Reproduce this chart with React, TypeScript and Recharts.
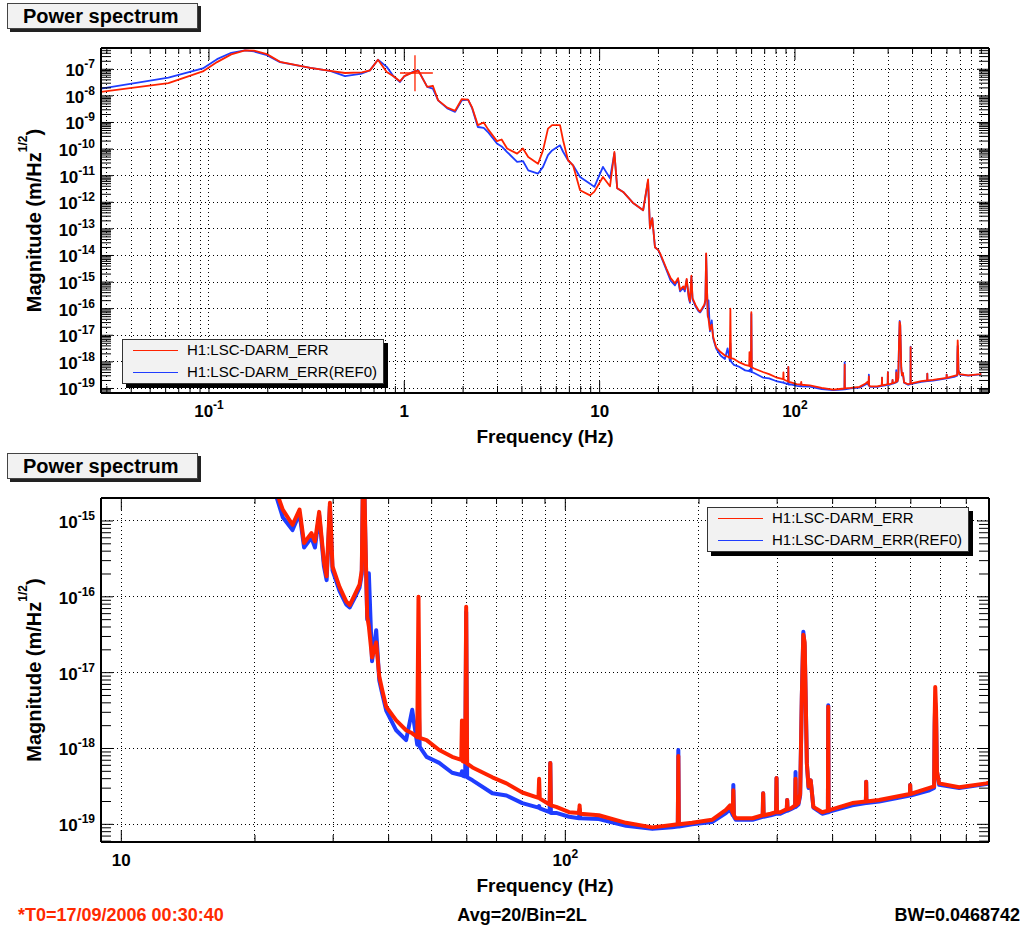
import React from 'react';
import { LineChart, Line, XAxis, YAxis, CartesianGrid, ReferenceLine, Legend } from 'recharts';

const FONT = '"Liberation Sans", Arial, Helvetica, sans-serif';
const ERR_COLOR = '#ff2200';
const REF_COLOR = '#1f3dff';

// Frequency bins (Hz)
const freqHz = [
  0.028, 0.062, 0.093, 0.11, 0.13, 0.153, 0.17, 0.198, 0.231, 0.33,
  0.417, 0.497, 0.607, 0.667, 0.733, 0.813, 0.88, 0.95, 1.0, 1.12,
  1.18, 1.31, 1.4, 1.49, 1.66, 1.82, 1.97, 2.12, 2.22, 2.38,
  2.55, 2.68, 2.98, 3.15, 3.36, 3.78, 4.05, 4.31, 4.84, 5.13,
  5.44, 5.71, 6.27, 6.5, 6.89, 7.31, 7.94, 8.93, 9.4, 10.4,
  11.3, 11.9, 12.3, 13.2, 14.9, 16.7, 17.7, 18.1, 18.6, 19.2,
  19.97, 20.4, 22, 23.1, 24.3, 25.2, 25.8, 26.8, 27.3, 27.9,
  28.6, 29, 29.5, 29.9, 31, 32.1, 32.7, 33.5, 34.4, 34.8,
  35.1, 35.5, 35.8, 36.1, 36.7, 37.5, 38.1, 38.7, 39.5, 41.6,
  43.8, 45.2, 46.4, 46.7, 47, 48.7, 52, 55.6, 58.3, 58.5,
  58.8, 59.5, 59.8, 60.1, 61.8, 68.5, 73.7, 80, 87, 87.3,
  87.6, 92.2, 92.5, 92.8, 95.4, 102, 107.4, 107.7, 108, 119,
  137, 157, 174, 179.2, 179.7, 180.2, 193, 214, 230, 235,
  238.3, 239, 239.7, 242, 264, 278.3, 279, 279.7, 290, 298.3,
  299, 299.7, 305, 315.3, 316, 316.7, 322, 329.3, 330, 330.7,
  335, 338, 341, 343.6, 346, 348, 350, 353, 357, 362,
  379, 390.3, 391, 391.7, 395, 443, 475.3, 476, 476.7, 509,
  597, 598, 599, 661, 677, 679, 681, 684, 687, 695,
  771, 887, 900,
];

// log10 of amplitude spectral density, m/Hz^(1/2): current measurement
const errLog10 = [
  -7.85, -7.52, -7.08, -6.73, -6.44, -6.29, -6.3, -6.43, -6.72, -6.95,
  -7.06, -7.14, -7.12, -7.04, -6.64, -7.1, -7.26, -7.45, -7.26, -7.1,
  -7.05, -7.66, -7.62, -8.17, -8.44, -8.56, -8.12, -8.14, -8.42, -9.1,
  -9.0, -9.25, -9.7, -9.64, -9.98, -10.17, -9.98, -10.3, -10.55, -10.05,
  -9.23, -9.1, -9.1, -9.67, -10.42, -10.61, -11.55, -11.74, -11.6, -11.05,
  -11.4, -10.11, -11.47, -11.61, -12.04, -12.3, -11.14, -12.98, -12.6, -13.69,
  -13.8, -13.92, -14.5, -14.85, -15.05, -14.85, -15.29, -15.16, -15.27, -14.88,
  -15.54, -15.73, -14.76, -15.6, -15.87, -16.06, -16.11, -15.98, -15.84, -15.65,
  -13.92, -15.38, -16.26, -16.39, -16.8, -16.6, -17.05, -17.23, -17.45, -17.63,
  -17.76, -17.8, -17.85, -16.0, -17.86, -17.89, -18.02, -18.11, -18.15, -17.63,
  -18.17, -18.18, -16.13, -18.2, -18.25, -18.38, -18.46, -18.58, -18.65, -18.4,
  -18.66, -18.74, -18.19, -18.75, -18.77, -18.84, -18.85, -18.75, -18.86, -18.88,
  -18.98, -19.04, -19.01, -19.0, -18.1, -19.0, -18.98, -18.94, -18.81, -18.75,
  -18.85, -18.55, -18.88, -18.92, -18.92, -18.88, -18.59, -18.88, -18.86, -18.84,
  -18.39, -18.84, -18.84, -18.8, -18.68, -18.8, -18.79, -18.75, -18.4, -18.75,
  -18.72, -18.6, -17.3, -16.5, -16.6, -17.4, -18.2, -18.5, -18.42, -18.77,
  -18.84, -18.82, -17.45, -18.82, -18.81, -18.72, -18.7, -18.44, -18.7, -18.68,
  -18.6, -18.48, -18.6, -18.52, -18.5, -17.6, -17.19, -17.5, -18.3, -18.46,
  -18.51, -18.46, -18.45,
];

// log10 of amplitude spectral density, m/Hz^(1/2): reference (REF0)
const refLog10 = [
  -7.73, -7.31, -6.97, -6.62, -6.38, -6.29, -6.33, -6.47, -6.73, -6.95,
  -7.06, -7.26, -7.16, -7.04, -6.64, -6.91, -7.26, -7.48, -7.26, -7.08,
  -7.04, -7.66, -7.73, -8.17, -8.47, -8.6, -8.17, -8.14, -8.45, -9.17,
  -9.2, -9.36, -9.79, -9.9, -10.11, -10.48, -10.45, -10.8, -10.92, -10.67,
  -10.23, -10.05, -9.86, -10.1, -10.42, -10.61, -11.05, -11.3, -11.42, -10.67,
  -11.1, -10.15, -11.47, -11.61, -12.04, -12.3, -11.2, -12.98, -12.6, -13.69,
  -13.8, -13.95, -14.55, -14.95, -15.12, -14.9, -15.35, -15.22, -15.35, -14.92,
  -15.6, -15.78, -14.8, -15.65, -15.92, -16.1, -16.14, -16.02, -15.88, -15.7,
  -13.95, -15.4, -16.3, -15.69, -16.85, -16.44, -17.1, -17.28, -17.5, -17.76,
  -17.89, -17.49, -17.95, -17.3, -17.98, -18.11, -18.19, -18.32, -18.35, -18.3,
  -18.36, -18.37, -16.2, -18.38, -18.42, -18.59, -18.62, -18.72, -18.78, -18.76,
  -18.79, -18.84, -18.19, -18.85, -18.85, -18.9, -18.92, -18.8, -18.92, -18.93,
  -19.02, -19.06, -19.04, -19.03, -18.02, -19.03, -19.0, -18.97, -18.85, -18.8,
  -18.88, -18.48, -18.9, -18.94, -18.94, -18.9, -18.59, -18.9, -18.88, -18.86,
  -18.39, -18.86, -18.86, -18.82, -18.68, -18.82, -18.8, -18.77, -18.31, -18.77,
  -18.74, -18.62, -17.3, -16.46, -16.65, -17.4, -18.2, -18.52, -18.42, -18.78,
  -18.86, -18.84, -17.43, -18.84, -18.83, -18.75, -18.72, -18.44, -18.72, -18.7,
  -18.62, -18.48, -18.62, -18.55, -18.52, -17.7, -17.4, -17.6, -18.3, -18.48,
  -18.52, -18.47, -18.46,
];

const seriesLabels = ['H1:LSC-DARM_ERR', 'H1:LSC-DARM_ERR(REF0)'];
const seriesColors = [ERR_COLOR, REF_COLOR];

// Error-bar cross on the current trace near 1.1 Hz
const crossFreq = [0.95, 1.134, 1.4]; // left, centre, right
const crossLog10 = [-7.83, -7.14, -6.47]; // bottom, centre, top

// Axis labels
const topXLabels = [
  { v: 0.1, base: '10', exp: '-1' },
  { v: 1, base: '1' },
  { v: 10, base: '10' },
  { v: 100, base: '10', exp: '2' },
];
const bottomXLabels = [
  { v: 10, base: '10' },
  { v: 100, base: '10', exp: '2' },
];
const topYDecades = [-19, -18, -17, -16, -15, -14, -13, -12, -11, -10, -9, -8, -7];
const bottomYDecades = [-19, -18, -17, -16, -15];

const topFreqRange: [number, number] = [0.028, 985];
const bottomFreqRange: [number, number] = [9, 900];
const topMagRange: [number, number] = [Math.pow(10, -19.17), Math.pow(10, -6.2)];
const bottomMagRange: [number, number] = [Math.pow(10, -19.233), Math.pow(10, -14.697)];

const spectrum = freqHz.map((f, i) => ({
  f,
  err: Math.pow(10, errLog10[i]),
  ref: Math.pow(10, refLog10[i]),
}));

function logTicks(lo: number, hi: number): number[] {
  const out: number[] = [];
  for (let e = Math.floor(Math.log10(lo)); e <= Math.ceil(Math.log10(hi)); e++) {
    for (let m = 1; m <= 9; m++) {
      const v = m * Math.pow(10, e);
      if (v >= lo && v <= hi) out.push(v);
    }
  }
  return out;
}

const isDecade = (v: number) => Math.abs(Math.log10(v) - Math.round(Math.log10(v))) < 1e-6;

const labelFont = { fontFamily: FONT, fontWeight: 700, fill: '#000' } as const;

const makeXTick = (labels: { v: number; base: string; exp?: string }[], side: 'top' | 'bottom') =>
  (props: any) => {
    const { x, y, payload } = props;
    const v = payload.value as number;
    const major = isDecade(v);
    const len = major ? 12 : side === 'top' ? 6 : 7;
    const dir = side === 'bottom' ? -1 : 1;
    const lab = side === 'bottom'
      ? labels.find((l) => Math.abs(Math.log10(l.v) - Math.log10(v)) < 1e-6)
      : undefined;
    return (
      <g>
        <line x1={x} x2={x} y1={y} y2={y + dir * len} stroke="#000" strokeWidth={1} />
        {lab && (
          <text x={x} y={y + 24} textAnchor="middle" fontSize={17} {...labelFont}>
            {lab.base}
            {lab.exp && (
              <tspan dy={-8} fontSize={12}>
                {lab.exp}
              </tspan>
            )}
          </text>
        )}
      </g>
    );
  };

const makeYTick = (decades: number[], side: 'left' | 'right') => (props: any) => {
  const { x, y, payload } = props;
  const v = payload.value as number;
  const major = isDecade(v);
  const e = Math.round(Math.log10(v));
  const len = major ? 12 : 10;
  const dir = side === 'left' ? 1 : -1;
  const showLabel = side === 'left' && major && decades.includes(e);
  return (
    <g>
      <line x1={x} x2={x + dir * len} y1={y} y2={y} stroke="#000" strokeWidth={1} />
      {showLabel && (
        <text x={x - 6} y={y + 7} textAnchor="end" fontSize={17} {...labelFont}>
          10
          <tspan dy={-8} fontSize={12}>
            {String(e)}
          </tspan>
        </text>
      )}
    </g>
  );
};

const FreqTitle = (props: any) => {
  const vb = props.viewBox || { x: 101, y: 393, width: 888, height: 40 };
  return (
    <text x={vb.x + vb.width / 2} y={vb.y + 50} textAnchor="middle" fontSize={19} {...labelFont}>
      Frequency (Hz)
    </text>
  );
};

const MagTitle = (props: any) => {
  const vb = props.viewBox || { x: 41, y: 48, width: 60, height: 345 };
  const cx = vb.x;
  const cy = vb.y + vb.height / 2;
  return (
    <text
      x={cx}
      y={cy}
      transform={`rotate(-90 ${cx} ${cy})`}
      textAnchor="middle"
      fontSize={20}
      {...labelFont}
    >
      Magnitude (m/Hz
      <tspan dy={-14} fontSize={12}>
        1/2
      </tspan>
      <tspan dy={14}>)</tspan>
    </text>
  );
};

const LegendBox = () => (
  <div
    style={{
      position: 'relative',
      boxSizing: 'border-box',
      width: 262,
      height: 45,
      background: '#f2f2f2',
      border: '1px solid #333',
      boxShadow: '4px 4px 0 #000',
      fontFamily: FONT,
      fontSize: 15,
      color: '#000',
    }}
  >
    {seriesLabels.map((name, i) => (
      <div
        key={name}
        style={{
          position: 'absolute',
          left: 0,
          top: 10 + 22 * i - 9,
          height: 18,
          display: 'flex',
          alignItems: 'center',
          whiteSpace: 'nowrap',
        }}
      >
        <div style={{ marginLeft: 10, width: 45, height: 0, borderTop: `1.5px solid ${seriesColors[i]}` }} />
        <span style={{ marginLeft: 9, lineHeight: '18px' }}>{name}</span>
      </div>
    ))}
  </div>
);

const frame = { stroke: '#000', strokeWidth: 2 };

type PanelProps = {
  xRange: [number, number];
  yRange: [number, number];
  xLabels: { v: number; base: string; exp?: string }[];
  yDecades: number[];
  lineWidth: number;
  legendLeft: number;
  legendTop: number;
  bottomMargin: number;
  showCross?: boolean;
};

function SpectrumPanel(p: PanelProps) {
  const xTicks = logTicks(p.xRange[0], p.xRange[1]);
  const yTicks = logTicks(p.yRange[0], p.yRange[1]);
  return (
    <LineChart
      width={1023}
      height={450}
      data={spectrum}
      margin={{ top: 38, right: 24, bottom: p.bottomMargin, left: 41 }}
    >
      <CartesianGrid
        stroke="#000"
        strokeDasharray="1 3"
        horizontal={false}
        shapeRendering="crispEdges"
      />
      {p.yDecades.map((e) => (
        <ReferenceLine
          key={e}
          y={Math.pow(10, e)}
          stroke="#000"
          strokeDasharray="1 3"
          strokeWidth={1}
          shapeRendering="crispEdges"
        />
      ))}
      <XAxis
        dataKey="f"
        type="number"
        scale="log"
        domain={p.xRange}
        allowDataOverflow
        ticks={xTicks}
        interval={0}
        tickSize={0}
        tickMargin={0}
        height={40}
        axisLine={frame}
        tickLine={false}
        tick={makeXTick(p.xLabels, 'bottom')}
        label={<FreqTitle />}
      />
      <XAxis
        xAxisId="top"
        orientation="top"
        dataKey="f"
        type="number"
        scale="log"
        domain={p.xRange}
        allowDataOverflow
        ticks={xTicks}
        interval={0}
        tickSize={0}
        tickMargin={0}
        height={10}
        axisLine={frame}
        tickLine={false}
        tick={makeXTick(p.xLabels, 'top')}
      />
      <YAxis
        type="number"
        scale="log"
        domain={p.yRange}
        allowDataOverflow
        ticks={yTicks}
        interval={0}
        tickSize={0}
        tickMargin={0}
        width={60}
        axisLine={frame}
        tickLine={false}
        tick={makeYTick(p.yDecades, 'left')}
        label={<MagTitle />}
      />
      <YAxis
        yAxisId="right"
        orientation="right"
        type="number"
        scale="log"
        domain={p.yRange}
        allowDataOverflow
        ticks={yTicks}
        interval={0}
        tickSize={0}
        tickMargin={0}
        width={10}
        axisLine={frame}
        tickLine={false}
        tick={makeYTick(p.yDecades, 'right')}
      />
      <Line
        dataKey="ref"
        name={seriesLabels[1]}
        stroke={REF_COLOR}
        strokeWidth={p.lineWidth}
        strokeLinejoin="round"
        dot={false}
        activeDot={false}
        isAnimationActive={false}
      />
      <Line
        dataKey="err"
        name={seriesLabels[0]}
        stroke={ERR_COLOR}
        strokeWidth={p.lineWidth}
        strokeLinejoin="round"
        dot={false}
        activeDot={false}
        isAnimationActive={false}
      />
      {p.showCross && (
        <ReferenceLine
          segment={[
            { x: crossFreq[1], y: Math.pow(10, crossLog10[0]) },
            { x: crossFreq[1], y: Math.pow(10, crossLog10[2]) },
          ]}
          stroke={ERR_COLOR}
          strokeWidth={1.3}
        />
      )}
      {p.showCross && (
        <ReferenceLine
          segment={[
            { x: crossFreq[0], y: Math.pow(10, crossLog10[1]) },
            { x: crossFreq[2], y: Math.pow(10, crossLog10[1]) },
          ]}
          stroke={ERR_COLOR}
          strokeWidth={1.3}
        />
      )}
      <Legend
        layout="horizontal"
        verticalAlign="middle"
        align="center"
        content={() => <LegendBox />}
        wrapperStyle={{ left: p.legendLeft, top: p.legendTop, width: 262, height: 45 }}
      />
    </LineChart>
  );
}

const TitleBox = ({ top }: { top: number }) => (
  <div
    style={{
      position: 'absolute',
      left: 7,
      top,
      boxSizing: 'border-box',
      width: 191,
      height: 26,
      background: '#f2f2f2',
      border: '1px solid #444',
      boxShadow: '3px 3px 0 #222',
      fontFamily: FONT,
      fontWeight: 700,
      fontSize: 20,
      lineHeight: '24px',
      paddingLeft: 15,
      color: '#000',
      whiteSpace: 'nowrap',
    }}
  >
    Power spectrum
  </div>
);

const footerStyle: React.CSSProperties = {
  position: 'absolute',
  top: 906,
  fontFamily: FONT,
  fontWeight: 700,
  fontSize: 18,
  lineHeight: '18px',
  whiteSpace: 'nowrap',
};

export default function App() {
  return (
    <div
      style={{
        position: 'absolute',
        left: 0,
        top: 0,
        width: 1023,
        height: 930,
        background: '#fff',
        overflow: 'hidden',
      }}
    >
      <div style={{ position: 'absolute', left: 0, top: 0 }}>
        <SpectrumPanel
          xRange={topFreqRange}
          yRange={topMagRange}
          xLabels={topXLabels}
          yDecades={topYDecades}
          lineWidth={1.8}
          legendLeft={122}
          legendTop={339}
          bottomMargin={17}
          showCross
        />
      </div>
      <div style={{ position: 'absolute', left: 0, top: 450 }}>
        <SpectrumPanel
          xRange={bottomFreqRange}
          yRange={bottomMagRange}
          xLabels={bottomXLabels}
          yDecades={bottomYDecades}
          lineWidth={4}
          legendLeft={707}
          legendTop={57}
          bottomMargin={18}
        />
      </div>
      <TitleBox top={3} />
      <TitleBox top={453} />
      <div style={{ ...footerStyle, left: 18, color: '#ff2a00' }}>*T0=17/09/2006 00:30:40</div>
      <div style={{ ...footerStyle, left: 522, transform: 'translateX(-50%)', color: '#000' }}>
        Avg=20/Bin=2L
      </div>
      <div style={{ ...footerStyle, right: 3, color: '#000' }}>BW=0.0468742</div>
    </div>
  );
}
